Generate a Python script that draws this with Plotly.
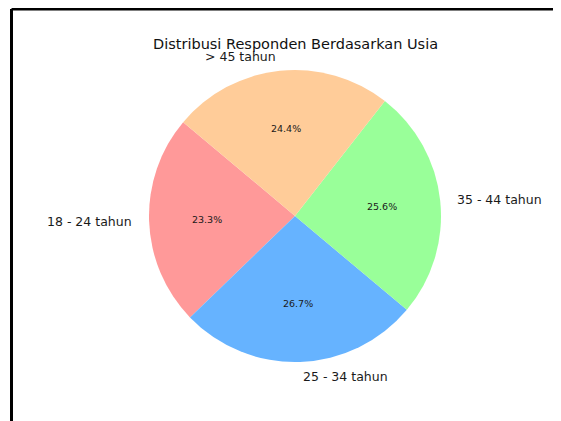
import math
import plotly.graph_objects as go

labels = ['18 - 24 tahun', '25 - 34 tahun', '35 - 44 tahun', '> 45 tahun']
counts = [21, 24, 23, 22]
colors = ['#ff9999', '#66b3ff', '#99ff99', '#ffcc99']
title = 'Distribusi Responden Berdasarkan Usia'
start_angle = 140  # degrees, math convention (counterclockwise from +x)

W, H = 561, 421
cx_px, cy_px, r_px = 287, 208, 146
dom_x = [(cx_px - r_px) / W, (cx_px + r_px) / W]
dom_y = [(H - cy_px - r_px) / H, (H - cy_px + r_px) / H]
FONT = 'DejaVu Sans'

total = sum(counts)
first_sweep = counts[0] / total * 360
# plotly places the first counterclockwise slice ending at its rotation angle
rotation = 90 - (start_angle + first_sweep)

fig = go.Figure(go.Pie(
    labels=labels, values=counts, sort=False,
    direction='counterclockwise', rotation=rotation,
    marker=dict(colors=colors, line=dict(width=0)),
    textinfo='none', hoverinfo='label+percent', showlegend=False,
    domain=dict(x=dom_x, y=dom_y),
))

cxp = (dom_x[0] + dom_x[1]) / 2
cyp = (dom_y[0] + dom_y[1]) / 2
rx = r_px / W
ry = r_px / H
ann = []
ang = start_angle
for lab, v in zip(labels, counts):
    frac = v / total
    mid = math.radians(ang + frac * 360 / 2)
    ang += frac * 360
    c, s = math.cos(mid), math.sin(mid)
    ann.append(dict(x=cxp + 1.1 * rx * c, y=cyp + 1.1 * ry * s, xref='paper', yref='paper',
                    text=lab, showarrow=False, xanchor='left' if c > 0 else 'right',
                    yanchor='middle', font=dict(family=FONT, size=12.5, color='#1a1a1a')))
    ann.append(dict(x=cxp + 0.6 * rx * c, y=cyp + 0.6 * ry * s, xref='paper', yref='paper',
                    text='%.1f%%' % (frac * 100), showarrow=False, xanchor='center',
                    yanchor='middle', font=dict(family=FONT, size=9.5, color='#1a1a1a')))

ann.append(dict(x=cxp, y=1 - 36 / H, xref='paper', yref='paper', text=title, showarrow=False,
                xanchor='center', yanchor='middle', font=dict(family=FONT, size=14.5, color='#111')))

bx = 3.5 / W
by = 1 - 1 / H
fig.update_layout(
    width=W, height=H, margin=dict(l=0, r=0, t=0, b=0),
    paper_bgcolor='white', plot_bgcolor='white',
    annotations=ann,
    shapes=[
        dict(type='line', xref='paper', yref='paper', x0=bx, y0=-0.01, x1=bx, y1=by,
             line=dict(color='black', width=3)),
        dict(type='line', xref='paper', yref='paper', x0=bx, y0=by, x1=1.01, y1=by,
             line=dict(color='black', width=3)),
    ],
)
fig.write_html('out.html')
